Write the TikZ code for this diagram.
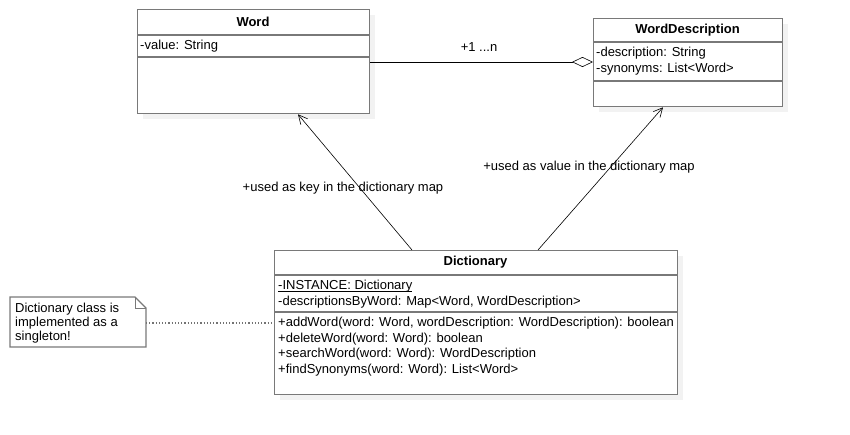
\documentclass[tikz,border=0pt]{standalone}
\usepackage{fontspec}
\setmainfont{Liberation Sans}
\usetikzlibrary{
  positioning,
  calc,
  arrows.meta,
  shadows
}

% underlined (static) member, with a visible rule
\newcommand{\staticmember}[1]{\setbox0\hbox{#1}\rlap{\rule[-2.2pt]{\wd0}{0.9pt}}\box0}

\tikzset{
  classbox/.style={draw=gray!95!black, line width=1.3pt, fill=white, anchor=north west, inner sep=0pt,
    general shadow={fill=gray!10, shadow xshift=5pt, shadow yshift=-5pt}},
  sepline/.style={draw=gray!95!black, line width=1.3pt},
  classname/.style={font=\fontsize{13}{15}\selectfont\bfseries, inner sep=0pt},
  members/.style={font=\fontsize{13}{15.5}\selectfont, align=left, anchor=north west, inner sep=0pt},
  navig/.style={-{Straight Barb[length=9pt, width=9pt]}, line width=0.6pt},
  aggr/.style={-{Diamond[open, length=21pt, width=10pt, fill=white]}, line width=0.6pt},
  linklabel/.style={font=\fontsize{13}{15}\selectfont, inner sep=0pt},
  notelink/.style={dotted, line width=1.2pt, gray!90!black}
}

\begin{document}
\begin{tikzpicture}[x=1pt, y=-1pt]
      \useasboundingbox (0,0) rectangle (850,434);

      % Class Word
      \node[classbox, minimum width=232pt, minimum height=104pt] (word) at (137,9) {};
      \node[classname] (wordname) at (253,22) {Word};
      \draw[sepline] (word.west |- 0,35) -- (word.east |- 0,35);
      \node[members] (wordattr) at (140,40) {-value: String};
      \draw[sepline] (word.west |- 0,57) -- (word.east |- 0,57);

      % Class WordDescription
      \node[classbox, minimum width=189pt, minimum height=88pt] (wdesc) at (593,18) {};
      \node[classname] (wdescname) at (687.5,30.5) {WordDescription};
      \draw[sepline] (wdesc.west |- 0,42) -- (wdesc.east |- 0,42);
      \node[members] (wdescattr) at (596,47) {-description: String\\-synonyms: List<Word>};
      \draw[sepline] (wdesc.west |- 0,81) -- (wdesc.east |- 0,81);

      % Class Dictionary
      \node[classbox, minimum width=403pt, minimum height=144pt] (dict) at (274,250) {};
      \node[classname] (dictname) at (475.5,262.5) {Dictionary};
      \draw[sepline] (dict.west |- 0,275) -- (dict.east |- 0,275);
      \node[members] (dictattr) at (278,280) {\staticmember{-INSTANCE: Dictionary}\\-descriptionsByWord: Map<Word, WordDescription>};
      \draw[sepline] (dict.west |- 0,312) -- (dict.east |- 0,312);
      \node[members] (dictops) at (278,317) {+addWord(word: Word, wordDescription: WordDescription): boolean\\+deleteWord(word: Word): boolean\\+searchWord(word: Word): WordDescription\\+findSynonyms(word: Word): List<Word>};

      % Note with folded corner
      \filldraw[draw=gray!95!black, line width=1.2pt, fill=white] (10,297) -- (135,297) -- (146,308) -- (146,347) -- (10,347) -- cycle;
      \draw[gray!95!black, line width=0.8pt] (135,297) -- (135,308) -- (146,308);
      \node[members, font=\fontsize{13}{14}\selectfont] (note) at (15,303) {Dictionary class is\\implemented as a\\singleton!};
      \coordinate (notepin) at (146,323);
      \draw[notelink] (notepin) -- (dict.west |- notepin);

      % Associations
      \draw[aggr] (word.east |- 0,62) -- (wdesc.west |- 0,62);
      \node[linklabel] (multlabel) at (479,47) {+1 ...n};

      \draw[navig] (dict.north -| 412,0) -- (word.south -| 298,0);
      \node[linklabel] (keylabel) at (343,188) {+used as key in the dictionary map};

      \draw[navig] (dict.north -| 538,0) -- (wdesc.south -| 663,0);
      \node[linklabel] (valuelabel) at (589,167) {+used as value in the dictionary map};
    \end{tikzpicture}
\end{document}
